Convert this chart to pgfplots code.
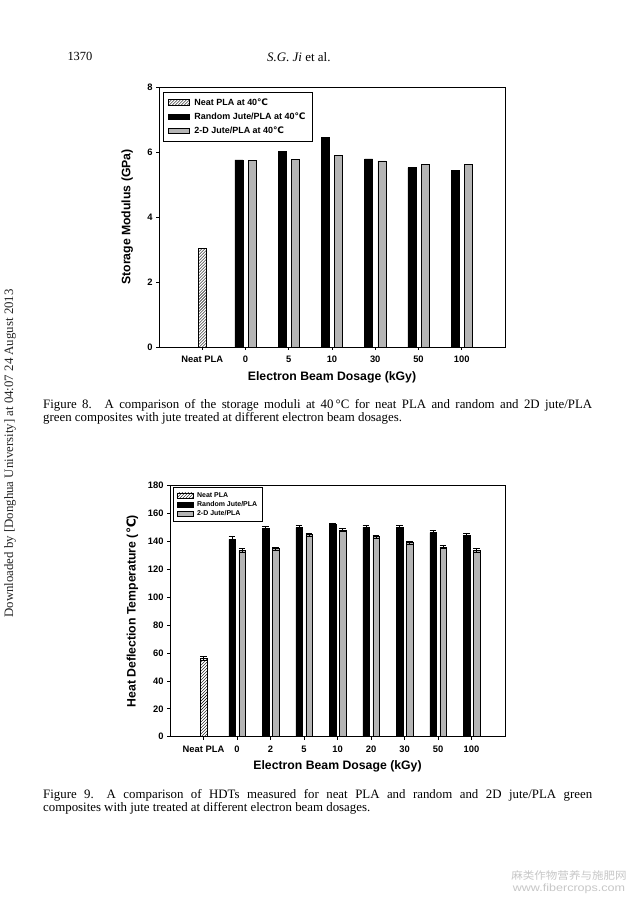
\documentclass[border=0pt]{standalone}
\usepackage{fontspec}
\setmainfont{Liberation Serif}
\newfontfamily\arial{Liberation Sans}
\newfontfamily\dejavu{DejaVu Sans}
\newfontfamily\cjk{Noto Sans CJK SC}
\usepackage{pgfplots}
\pgfplotsset{compat=1.18}
\usetikzlibrary{patterns}
\definecolor{bargray}{RGB}{180,180,180}
\newcommand{\degC}{{\dejavu\bfseries ℃}}
\pgfplotsset{
  myaxis/.style={
    scale only axis, anchor=south west,
    axis line style={line width=0.9pt},
    tick align=outside, tick pos=left, major tick length=3bp,
    tick style={line width=0.8pt, black},
    ticklabel style={font=\arial\bfseries\fontsize{9.4}{10}\selectfont},
    xticklabel style={text height=6.8bp, text depth=0bp, yshift=-2bp},
    /pgf/number format/assume math mode=true,
    label style={font=\arial\bfseries\fontsize{12.3}{14}\selectfont},
    ybar, ymin=0,
    legend cell align=left,
  },
  leg1/.style={legend image code/.code={\draw[##1] (0bp,-2.8bp) rectangle (21bp,2.8bp); \path (23.5bp,0);}},
  leg2/.style={legend image code/.code={\draw[##1] (0bp,-2.4bp) rectangle (16.7bp,2.4bp); \path (18bp,0);}},
}
\begin{document}
\begin{tikzpicture}
\path[use as bounding box, fill=white] (0,0) rectangle (635bp,905bp);
% header
\node[anchor=west, inner sep=0, font=\fontsize{12.5}{14}\selectfont] at (67.3bp,848.3bp) {1370};
\node[anchor=west, inner sep=0, font=\fontsize{13}{14}\selectfont] at (267bp,848.3bp) {\textit{S.G. Ji} et al.};
% side text
\node[rotate=90, inner sep=0, font=\fontsize{12.9}{14}\selectfont, text=black!85] at (10bp,451.5bp) {Downloaded by [Donghua University] at 04:07 24 August 2013};
% watermark
\node[inner sep=0, text=black!22, font=\cjk\fontsize{10.5}{11}\selectfont] at (569bp,29.5bp) {\scalebox{1.1}[1]{麻类作物营养与施肥网}};
\node[inner sep=0, text=black!22, font=\arial\fontsize{10.5}{11}\selectfont] at (569bp,16.5bp) {\scalebox{1.2}[1]{www.fibercrops.com}};

% Figure 8
\begin{axis}[myaxis,
  at={(159bp,558bp)}, width=346bp, height=260bp,
  xmin=-1, xmax=7, ymax=8, ytick={0,2,4,6,8},
  xtick={0,...,6}, xticklabels={Neat PLA,0,5,10,30,50,100},
  xlabel={Electron Beam Dosage (kGy)},
  ylabel={Storage Modulus (GPa)},
  x label style={at={(axis description cs:0.5,-0.1165)}, anchor=center},
  y label style={at={(axis description cs:-0.0916,0.5)}, anchor=center},
  legend style={at={(axis description cs:0.0116,0.9808)}, anchor=north west,
    draw=black, line width=0.9pt, font=\arial\bfseries\fontsize{9}{10}\selectfont,
    row sep=2bp, inner xsep=5bp, inner ysep=4bp},
]
\addplot[draw=black, line width=0.5pt, pattern=north east lines, bar width=8bp, bar shift=0bp, leg1] coordinates {(0,3.03)};
\addplot[draw=black, fill=black, line width=0.5pt, bar width=8bp, bar shift=-6.6bp, leg1] coordinates {(1,5.76) (2,6.02) (3,6.45) (4,5.79) (5,5.52) (6,5.43)};
\addplot[draw=black, fill=bargray, line width=0.5pt, bar width=8bp, bar shift=6.6bp, leg1] coordinates {(1,5.75) (2,5.77) (3,5.89) (4,5.73) (5,5.62) (6,5.61)};
\legend{Neat PLA at 40\degC, Random Jute/PLA at 40\degC, 2-D Jute/PLA at 40\degC}
\end{axis}
\node[anchor=north west, inner sep=0] at (43bp,506bp) {\parbox{549bp}{\fontsize{12.9}{13.5}\selectfont Figure 8.\quad A comparison of the storage moduli at 40\,°C for neat PLA and random and 2D jute/PLA\linebreak green composites with jute treated at different electron beam dosages.}};

% Figure 9
\begin{axis}[myaxis,
  at={(170bp,168.3bp)}, width=335bp, height=251bp,
  xmin=-1, xmax=9, ymax=180, ytick={0,20,...,180},
  xtick={0,...,8}, xticklabels={Neat PLA,0,2,5,10,20,30,50,100},
  xlabel={Electron Beam Dosage (kGy)},
  ylabel={Heat Deflection Temperature (\degC)},
  x label style={at={(axis description cs:0.5,-0.1195)}, anchor=center},
  y label style={at={(axis description cs:-0.1125,0.5)}, anchor=center},
  legend style={at={(axis description cs:0.008,0.9936)}, anchor=north west,
    draw=black, line width=0.9pt, font=\arial\bfseries\fontsize{7}{8}\selectfont,
    row sep=0.7bp, inner xsep=3.5bp, inner ysep=3.5bp, nodes={inner ysep=1bp}},
  error bars/error bar style={line width=0.6pt, black},
  error bars/error mark options={rotate=90, mark size=3.3bp, line width=0.6pt, black},
]
\addplot[draw=black, line width=0.5pt, pattern=north east lines, bar width=6.5bp, bar shift=0bp, leg2,
  error bars/.cd, y dir=both, y explicit] coordinates {(0,56) +- (0,1.5)};
\addplot[draw=black, fill=black, line width=0.5pt, bar width=6.5bp, bar shift=-5bp, leg2,
  error bars/.cd, y dir=both, y explicit] coordinates {(1,141.5) +- (0,2) (2,149.6) +- (0,1.2) (3,149.9) +- (0,1.5) (4,152.3) +- (0,1) (5,150.1) +- (0,1.2) (6,149.9) +- (0,1.5) (7,146.3) +- (0,1.5) (8,144.4) +- (0,1.5)};
\addplot[draw=black, fill=bargray, line width=0.5pt, bar width=6.5bp, bar shift=5bp, leg2,
  error bars/.cd, y dir=both, y explicit] coordinates {(1,133.6) +- (0,1.2) (2,134.8) +- (0,1) (3,144.9) +- (0,1.2) (4,148.2) +- (0,1.2) (5,143.4) +- (0,1) (6,139.1) +- (0,1) (7,136.0) +- (0,1.2) (8,133.6) +- (0,1.2)};
\legend{Neat PLA, Random Jute/PLA, 2-D Jute/PLA}
\end{axis}
\node[anchor=north west, inner sep=0] at (43bp,116bp) {\parbox{549bp}{\fontsize{12.9}{13.5}\selectfont Figure 9.\quad A comparison of HDTs measured for neat PLA and random and 2D jute/PLA green\linebreak composites with jute treated at different electron beam dosages.}};
\end{tikzpicture}
\end{document}
